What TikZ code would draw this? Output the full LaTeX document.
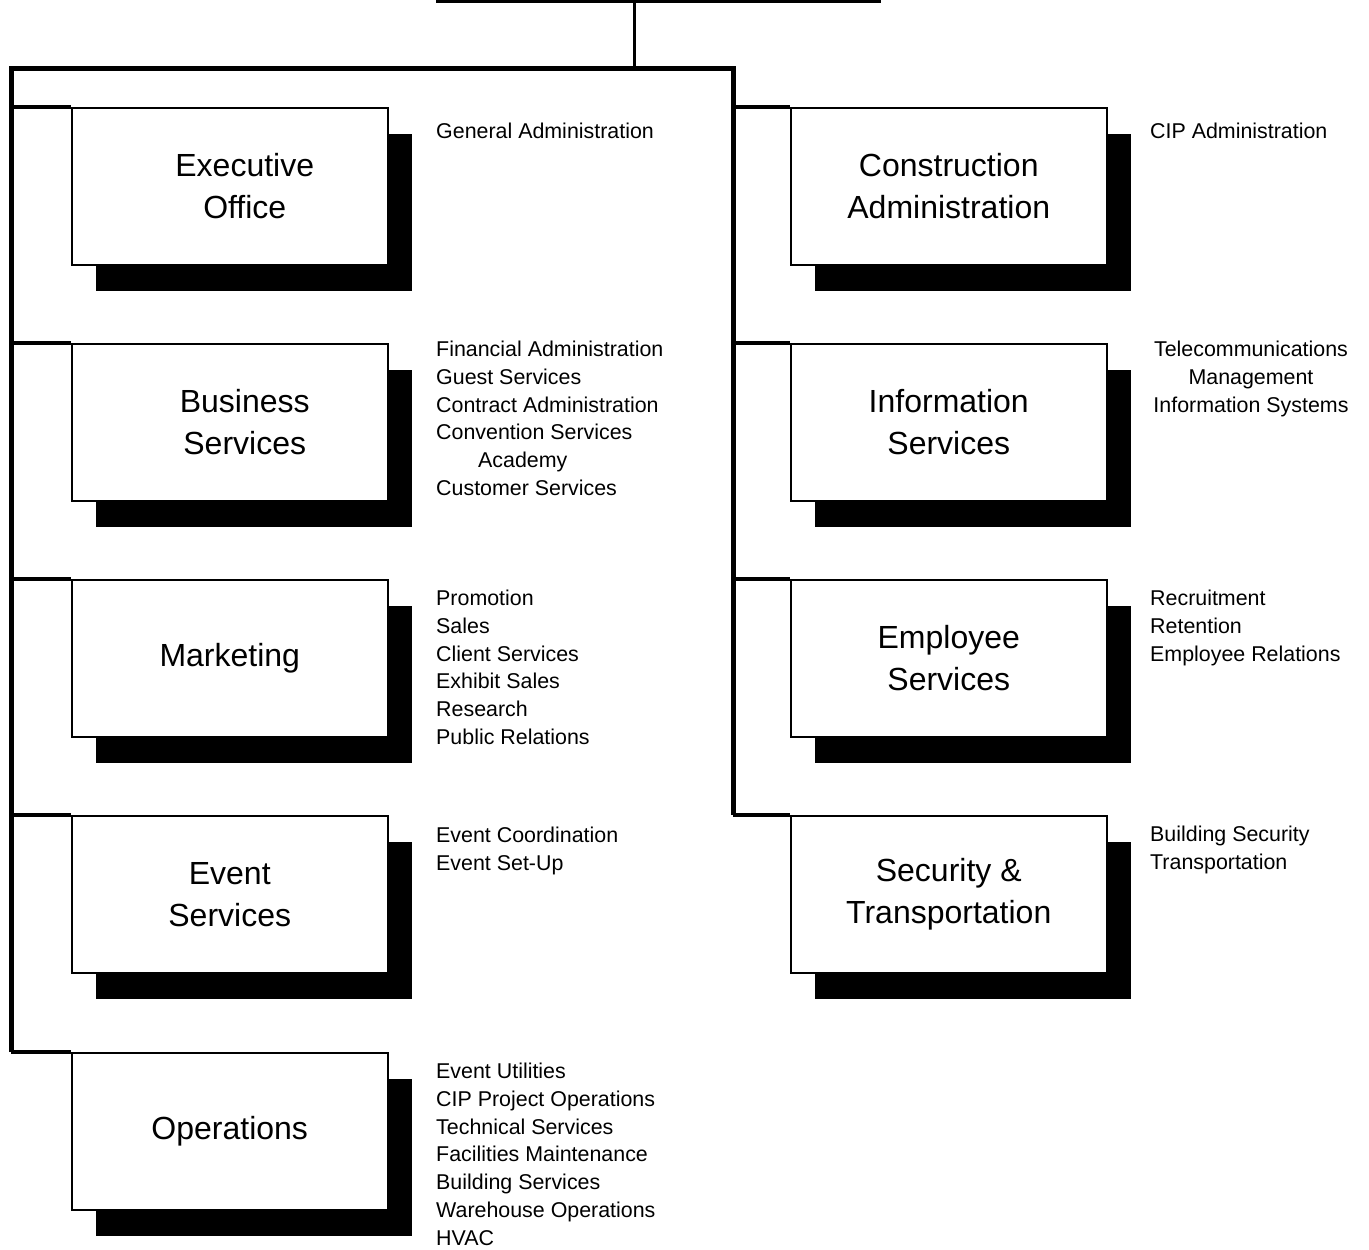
\documentclass[tikz,border=0pt]{standalone}
\usepackage{fontspec}
\setmainfont{Liberation Sans}
\usetikzlibrary{shadows,positioning,calc}

\tikzset{
	unit/.style={draw,line width=1.5pt,fill=white,anchor=north west,
		minimum width=316pt,minimum height=157pt,align=center,
		font=\fontsize{32}{42}\selectfont,
		drop shadow={shadow xshift=24pt,shadow yshift=-26pt,fill=black,opacity=1}},
	duties/.style={font=\fontsize{21.4}{27.8}\selectfont,align=left,anchor=base west,inner sep=0pt},
	bus/.style={line width=5pt,line join=miter},
	feeder/.style={line width=4pt}
}

\begin{document}
\begin{tikzpicture}[x=1pt,y=-1pt]
	\useasboundingbox (0,0) rectangle (1369,1250);
	% top of the chart
	\coordinate (chief west) at (436,1.5);
	\coordinate (chief east) at (881,1.5);
	\coordinate (chief) at (634,1.5);
	\coordinate (lbus) at (11,68);
	\coordinate (rbus) at (733,68);
	\draw[line width=3pt] (chief west) -- (chief east);
	\draw[line width=3pt] (chief) -- (chief |- lbus);
	
	% left column
	\node[unit] (exec) at (71,107) {\hspace*{30pt}Executive\\\hspace*{30pt}Office};
	\node[unit] (busi) at (71,343) {\hspace*{30pt}Business\\\hspace*{30pt}Services};
	\node[unit] (mkt) at (71,579) {Marketing};
	\node[unit] (evt) at (71,815) {Event\\Services};
	\node[unit] (ops) at (71,1052) {Operations};
	
	% right column
	\node[unit] (cons) at (790,107) {Construction\\Administration};
	\node[unit] (info) at (790,343) {Information\\Services};
	\node[unit] (emp) at (790,579) {Employee\\Services};
	\node[unit] (sec) at (790,815) {Security \&\\Transportation};
	
	% bus lines
	\draw[bus] (lbus |- ops.north west) -- (lbus) -- (rbus) -- (rbus |- sec.north west);
	\foreach \u in {exec,busi,mkt,evt,ops}
		\draw[feeder] (lbus |- \u.north west) -- (\u.north west);
	\foreach \u in {cons,info,emp,sec}
		\draw[feeder] (rbus |- \u.north west) -- (\u.north west);
	
	% duties (placed at the baseline of the last line)
	\node[duties] (exec list) at (436,138.5) {General Administration};
	\node[duties] (busi list) at (436,495.5) {Financial Administration\\Guest Services\\Contract Administration\\Convention Services\\\hspace*{42pt}Academy\\Customer Services};
	\node[duties] (mkt list) at (436,744.5) {Promotion\\Sales\\Client Services\\Exhibit Sales\\Research\\Public Relations};
	\node[duties] (evt list) at (436,870.3) {Event Coordination\\Event Set-Up};
	\node[duties] (ops list) at (436,1245.3) {Event Utilities\\CIP Project Operations\\Technical Services\\Facilities Maintenance\\Building Services\\Warehouse Operations\\HVAC};
	
	\node[duties] (cons list) at (1150,138.5) {CIP Administration};
	\node[duties,align=center,anchor=base] (info list) at (1251,412.1) {Telecommunications\\Management\\Information Systems};
	\node[duties] (emp list) at (1150,661.1) {Recruitment\\Retention\\Employee Relations};
	\node[duties] (sec list) at (1150,869.3) {Building Security\\Transportation};
\end{tikzpicture}
\end{document}
